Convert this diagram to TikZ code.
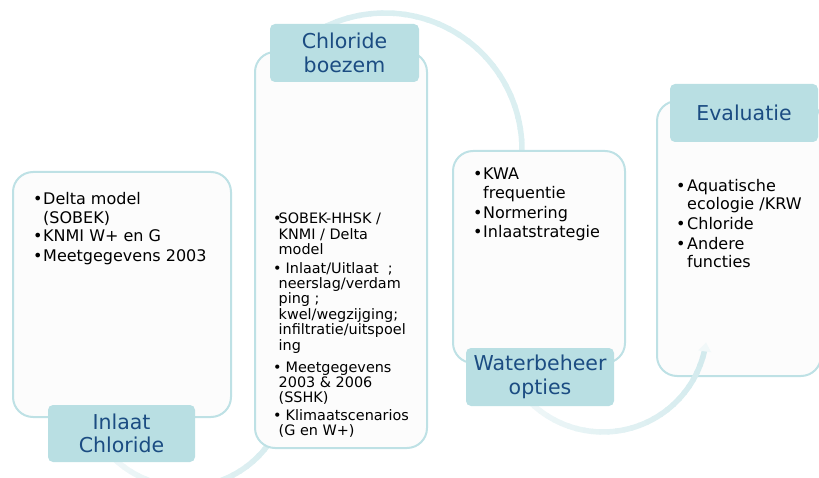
\documentclass[tikz,border=0pt]{standalone}
\usepackage{fontspec}
\setmainfont{DejaVu Sans}
\usetikzlibrary{calc}
\definecolor{lblfill}{HTML}{B9DFE3}
\definecolor{boxline}{HTML}{BEE1E5}
\definecolor{boxfill}{HTML}{FCFCFC}
\definecolor{lbltext}{HTML}{1B4C82}
\definecolor{arcA}{HTML}{D2EAED}
\definecolor{arcB}{HTML}{F1F8F9}
\definecolor{arcC}{HTML}{DBEFF1}
\newcommand\bitem[2][10pt]{\makebox[#1][l]{\textbullet}\begin{tabular}[t]{@{}l@{}}#2\end{tabular}}
% fading arc: center, radius, start angle, end angle, start colour, end colour
\newcommand\fadearc[6]{%
  \foreach \i in {0,...,29}{%
    \pgfmathsetmacro\ta{#3+(#4-#3)*\i/30}%
    \pgfmathsetmacro\tb{#3+(#4-#3)*min(\i+1.2,30)/30}%
    \pgfmathtruncatemacro\pc{100-100*\i/29}%
    \draw[arcline, color=#6!\pc!#5] ($(#1)+(\ta:#2)$) arc[start angle=\ta, end angle=\tb, radius=#2];
  }}
\begin{document}
\begin{tikzpicture}[x=1pt,y=1pt,
  contentbox/.style={draw=boxline, line width=2pt, fill=boxfill, rounded corners=20pt, inner sep=0pt},
  labelbox/.style={fill=lblfill, rounded corners=5pt, inner sep=0pt, text=lbltext, align=center,
    font=\fontsize{20.5}{23.5}\selectfont},
  itemtxt/.style={anchor=base west, inner sep=0pt, font=\fontsize{16}{18.5}\selectfont},
  smalltxt/.style={anchor=base west, inner sep=0pt, font=\fontsize{14.4}{15}\selectfont},
  arcline/.style={line width=5.5pt, line cap=butt}]
\useasboundingbox (0,0) rectangle (819,477);
\clip (0,0) rectangle (819,477);

% arc centres
\coordinate (c1) at (185,93);
\coordinate (c2) at (385,327);
\coordinate (c3) at (603,149);

% arcs behind the boxes
\fadearc{c1}{103}{215}{352}{arcA}{arcB}
\fadearc{c2}{137}{140}{-5}{arcC}{arcC!85!arcA}

% content boxes
\node[contentbox, minimum width=218pt, minimum height=245pt] (b1) at (122,182.5) {};
\node[contentbox, minimum width=172pt, minimum height=396pt] (b2) at (341,227) {};
\node[contentbox, minimum width=172pt, minimum height=212pt] (b3) at (539,220) {};
\node[contentbox, minimum width=164pt, minimum height=275pt] (b4) at (739,238.5) {};

% arc 3 over box 4
\fadearc{c3}{104}{215}{347.5}{arcA}{arcB}
\coordinate (tip3) at ($(c3)+(352:104)$);
\fill[arcB, shift={(tip3)}, rotate=82] (0,0) -- (-9,6.5) -- (-9,-6.5) -- cycle;

% box 1 text
\node[itemtxt] (t11) at (33,272) {\bitem{Delta model\\(SOBEK)}};
\node[itemtxt] (t12) at (33,235) {\bitem{KNMI W+ en G}};
\node[itemtxt] (t13) at (33,215) {\bitem{Meetgegevens 2003}};

% box 2 text
\node[smalltxt] (t21) at (273,253) {\bitem[5.5pt]{SOBEK-HHSK /\\KNMI / Delta\\model}};
\node[smalltxt] (t22) at (273,204) {\bitem[5.5pt]{\hspace{7pt}Inlaat/Uitlaat\ \ ;\\neerslag/verdam\\ping ;\\kwel/wegzijging;\\infiltratie/uitspoel\\ing}};
\node[smalltxt] (t23) at (273,105) {\bitem[5.5pt]{\hspace{7pt}Meetgegevens\\2003 \& 2006\\(SSHK)}};
\node[smalltxt] (t24) at (273,57) {\bitem[5.5pt]{\hspace{7pt}Klimaatscenarios\\(G en W+)}};

% box 3 text
\node[itemtxt] (t31) at (473,297) {\bitem{KWA\\frequentie}};
\node[itemtxt] (t32) at (473,258) {\bitem{Normering}};
\node[itemtxt] (t33) at (473,239) {\bitem{Inlaatstrategie}};

% box 4 text
\node[itemtxt, font=\fontsize{16}{18}\selectfont] (t41) at (676,285) {\bitem[11pt]{Aquatische\\ecologie /KRW}};
\node[itemtxt, font=\fontsize{16}{18}\selectfont] (t42) at (676,247) {\bitem[11pt]{Chloride}};
\node[itemtxt, font=\fontsize{16}{18}\selectfont] (t43) at (676,227) {\bitem[11pt]{Andere\\functies}};

% labels
\node[labelbox, minimum width=147pt, minimum height=57pt] (l1) at (121.5,43.5) {Inlaat\\Chloride};
\node[labelbox, minimum width=149pt, minimum height=58pt] (l2) at (344.5,424) {Chloride\\boezem};
\node[labelbox, minimum width=148pt, minimum height=58pt] (l3) at (540,100) {Waterbeheer\\opties};
\node[labelbox, minimum width=148pt, minimum height=58pt] (l4) at (744,364) {Evaluatie};
\end{tikzpicture}
\end{document}
